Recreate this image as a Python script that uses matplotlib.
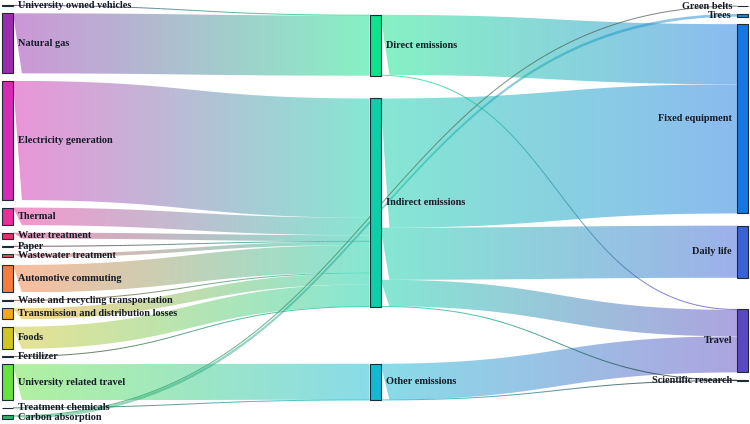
import numpy as np
import matplotlib.pyplot as plt
from matplotlib.path import Path
from matplotlib.patches import PathPatch, Rectangle
from matplotlib.collections import LineCollection
from matplotlib.colors import to_rgb

# ---- data ----
node_names = [
    'University owned vehicles', 'Natural gas', 'Electricity generation', 'Thermal',
    'Water treatment', 'Paper', 'Wastewater treatment', 'Automotive commuting',
    'Waste and recycling transportation', 'Transmission and distribution losses',
    'Foods', 'Fertilizer', 'University related travel', 'Treatment chemicals',
    'Carbon absorption',
    'Direct emissions', 'Indirect emissions', 'Other emissions',
    'Green belts', 'Trees', 'Fixed equipment', 'Daily life', 'Travel',
    'Scientific research',
]
node_colors = [
    '#4b1f63', '#9c2db0', '#d52bb3', '#ea2f9a',
    '#e0306e', '#5a1f30', '#e05050', '#f77b3c',
    '#8a3a10', '#f5a815',
    '#cfc525', '#404020', '#66e33f', '#2a6030',
    '#2bb36a',
    '#0de38a', '#0ccfa7', '#12b9d2',
    '#555555', '#1d8ad2', '#1677e0', '#3a62d4', '#5a48c2',
    '#202020',
]

link_sources = [
    'University owned vehicles', 'Natural gas', 'Electricity generation', 'Thermal',
    'Water treatment', 'Paper', 'Wastewater treatment', 'Automotive commuting',
    'Waste and recycling transportation', 'Transmission and distribution losses',
    'Foods', 'Fertilizer', 'University related travel', 'Treatment chemicals',
    'Carbon absorption', 'Carbon absorption',
    'Direct emissions', 'Direct emissions',
    'Indirect emissions', 'Indirect emissions', 'Indirect emissions', 'Indirect emissions',
    'Other emissions', 'Other emissions',
]
link_targets = [
    'Direct emissions', 'Direct emissions', 'Indirect emissions', 'Indirect emissions',
    'Indirect emissions', 'Indirect emissions', 'Indirect emissions', 'Indirect emissions',
    'Indirect emissions', 'Indirect emissions',
    'Indirect emissions', 'Indirect emissions', 'Other emissions', 'Other emissions',
    'Trees', 'Green belts',
    'Fixed equipment', 'Travel',
    'Fixed equipment', 'Daily life', 'Travel', 'Scientific research',
    'Travel', 'Scientific research',
]
link_values = [
    0.8, 60.0, 119.0, 17.5,
    6.0, 0.3, 3.5, 27.5,
    0.8, 11.0,
    22.0, 0.3, 36.0, 0.3,
    2.7, 0.8,
    60.0, 0.8,
    129.0, 52.0, 26.4, 0.5,
    36.0, 0.3,
]

# ---- layout settings ----
W, H = 750, 424
area_left, area_right = 2, 748
area_top, area_bottom = 5, 419
node_w = 11
node_gap = 7.5
link_alpha = 0.5
label_size = 7.4


def sankey_layout(names, sources, targets, values, Y0, Y1, pad, iterations=6):
    '''
    d3-sankey style layout with the nodes kept in input order.
    Returns layers, node tops/bottoms, link widths and link centre ys.
    '''
    idx = {n: i for i, n in enumerate(names)}
    src = [idx[s] for s in sources]
    tgt = [idx[t] for t in targets]
    n, m = len(names), len(src)
    ins = [[e for e in range(m) if tgt[e] == i] for i in range(n)]
    outs = [[e for e in range(m) if src[e] == i] for i in range(n)]

    depth = [0] * n
    for _ in range(n):
        for e in range(m):
            depth[tgt[e]] = max(depth[tgt[e]], depth[src[e]] + 1)
    maxd = max(depth)
    layer = [depth[i] if outs[i] else maxd for i in range(n)]

    value = [max(sum(values[e] for e in ins[i]), sum(values[e] for e in outs[i])) for i in range(n)]
    cols = [[i for i in range(n) if layer[i] == d] for d in range(maxd + 1)]
    py = min(pad, (Y1 - Y0) / (max(len(c) for c in cols) - 1))
    ky = min((Y1 - Y0 - (len(c) - 1) * py) / sum(value[i] for i in c) for c in cols)
    w = [v * ky for v in values]

    y0 = [0.0] * n
    h = [value[i] * ky for i in range(n)]
    for c in cols:
        y = Y0
        for i in c:
            y0[i] = y
            y = y + h[i] + py
        extra = (Y1 - y + py) / (len(c) + 1)
        for k, i in enumerate(c):
            y0[i] += extra * (k + 1)

    def reorder():
        for i in range(n):
            outs[i].sort(key=lambda e: (y0[tgt[e]], e))
            ins[i].sort(key=lambda e: (y0[src[e]], e))

    def target_top(s, t):
        y = y0[s] - (len(outs[s]) - 1) * py / 2
        for e in outs[s]:
            if tgt[e] == t:
                break
            y += w[e] + py
        for e in ins[t]:
            if src[e] == s:
                break
            y -= w[e]
        return y

    def source_top(s, t):
        y = y0[t] - (len(ins[t]) - 1) * py / 2
        for e in ins[t]:
            if src[e] == s:
                break
            y += w[e] + py
        for e in outs[s]:
            if tgt[e] == t:
                break
            y -= w[e]
        return y

    def top_to_bottom(c, y, k, a):
        for i in c[k:]:
            d = (y - y0[i]) * a
            if d > 1e-6:
                y0[i] += d
            y = y0[i] + h[i] + py

    def bottom_to_top(c, y, k, a):
        while k >= 0:
            i = c[k]
            d = (y0[i] + h[i] - y) * a
            if d > 1e-6:
                y0[i] -= d
            y = y0[i] - py
            k -= 1

    def resolve(c, a):
        k = len(c) >> 1
        s = c[k]
        bottom_to_top(c, y0[s] - py, k - 1, a)
        top_to_bottom(c, y0[s] + h[s] + py, k + 1, a)
        bottom_to_top(c, Y1, len(c) - 1, a)
        top_to_bottom(c, Y0, 0, a)

    reorder()
    for it in range(iterations):
        alpha = 0.99 ** it
        beta = max(1 - alpha, (it + 1) / iterations)
        for c in reversed(cols[:-1]):
            for s in c:
                num = den = 0.0
                for e in outs[s]:
                    v = values[e] * (layer[tgt[e]] - layer[s])
                    num += source_top(s, tgt[e]) * v
                    den += v
                if den > 0:
                    y0[s] += (num / den - y0[s]) * alpha
                    reorder()
            resolve(c, beta)
        for c in cols[1:]:
            for t in c:
                num = den = 0.0
                for e in ins[t]:
                    v = values[e] * (layer[t] - layer[src[e]])
                    num += target_top(src[e], t) * v
                    den += v
                if den > 0:
                    y0[t] += (num / den - y0[t]) * alpha
                    reorder()
            resolve(c, beta)

    reorder()
    ly0 = [0.0] * m
    ly1 = [0.0] * m
    for i in range(n):
        y = y0[i] + 0
        for e in outs[i]:
            ly0[e] = y + w[e] / 2
            y += w[e]
        y = y0[i] + 0
        for e in ins[i]:
            ly1[e] = y + w[e] / 2
            y += w[e]
    return layer, maxd, y0, h, src, tgt, w, ly0, ly1


layer, maxd, ny, nh, src, tgt, lw, ly0, ly1 = sankey_layout(
    node_names, link_sources, link_targets, link_values,
    area_top, area_bottom, node_gap)

col_step = (area_right - area_left - node_w) / maxd
nx = [area_left + d * col_step for d in layer]

fig = plt.figure(figsize=(W / 100, H / 100), dpi=100)
ax = fig.add_axes([0, 0, 1, 1])
ax.set_xlim(0, W)
ax.set_ylim(H, 0)
ax.axis('off')


def bezier(x0, y0, x1, y1, num=60):
    t = np.linspace(0, 1, num)
    xm = (x0 + x1) / 2
    bx = (1 - t) ** 3 * x0 + 3 * (1 - t) ** 2 * t * xm + 3 * (1 - t) * t ** 2 * xm + t ** 3 * x1
    by = (1 - t) ** 3 * y0 + 3 * (1 - t) ** 2 * t * y0 + 3 * (1 - t) * t ** 2 * y1 + t ** 3 * y1
    return bx, by


# links
for e in range(len(src)):
    s, t = src[e], tgt[e]
    h = lw[e]
    x0 = nx[s] + node_w
    x1 = nx[t]
    y0 = ly0[e] - h / 2
    y1 = ly1[e] - h / 2
    c0 = np.array(to_rgb(node_colors[s]))
    c1 = np.array(to_rgb(node_colors[t]))
    if h >= 1.5:
        tx_, ty_ = bezier(x0, y0, x1, y1)
        bx_, by_ = bezier(x0, y0 + h, x1, y1 + h)
        verts = np.vstack([np.column_stack([tx_, ty_]), np.column_stack([bx_[::-1], by_[::-1]])])
        grad = np.linspace(0, 1, 128)[:, None]
        img = np.ones((1, 128, 4))
        img[0, :, :3] = c0 * (1 - grad) + c1 * grad
        img[0, :, 3] = link_alpha
        patch = PathPatch(Path(verts, closed=True), facecolor='none', edgecolor='none')
        ax.add_patch(patch)
        im = ax.imshow(img, extent=(x0, x1, max(y0, y1) + h, min(y0, y1)),
                       aspect='auto', interpolation='bilinear', zorder=1)
        im.set_clip_path(patch)
    else:
        # hairline links: a thin gradient line along the middle
        cx, cy = bezier(x0, y0 + h / 2, x1, y1 + h / 2, num=120)
        pts = np.column_stack([cx, cy]).reshape(-1, 1, 2)
        segs = np.concatenate([pts[:-1], pts[1:]], axis=1)
        g = np.linspace(0, 1, len(segs))[:, None]
        seg_cols = np.ones((len(segs), 4))
        seg_cols[:, :3] = c0 * (1 - g) + c1 * g
        seg_cols[:, 3] = 0.75
        lc = LineCollection(segs, colors=seg_cols, linewidths=max(h, 1.0) * 0.72, zorder=2)
        ax.add_collection(lc)

# nodes and labels
for i, name in enumerate(node_names):
    ax.add_patch(Rectangle((nx[i], ny[i]), node_w, max(nh[i], 0.4),
                           facecolor=node_colors[i], edgecolor='#1c2b36', linewidth=0.8, zorder=3))
    cy = ny[i] + nh[i] / 2
    if layer[i] == maxd:
        ax.text(nx[i] - 5, cy, name, ha='right', va='center', fontsize=label_size,
                family='Liberation Serif', fontweight='bold', color='#141a26', zorder=4)
    else:
        ax.text(nx[i] + node_w + 5, cy, name, ha='left', va='center', fontsize=label_size,
                family='Liberation Serif', fontweight='bold', color='#141a26', zorder=4)

ax.set_xlim(0, W)
ax.set_ylim(H, 0)
fig.savefig('out.png', dpi=100)
